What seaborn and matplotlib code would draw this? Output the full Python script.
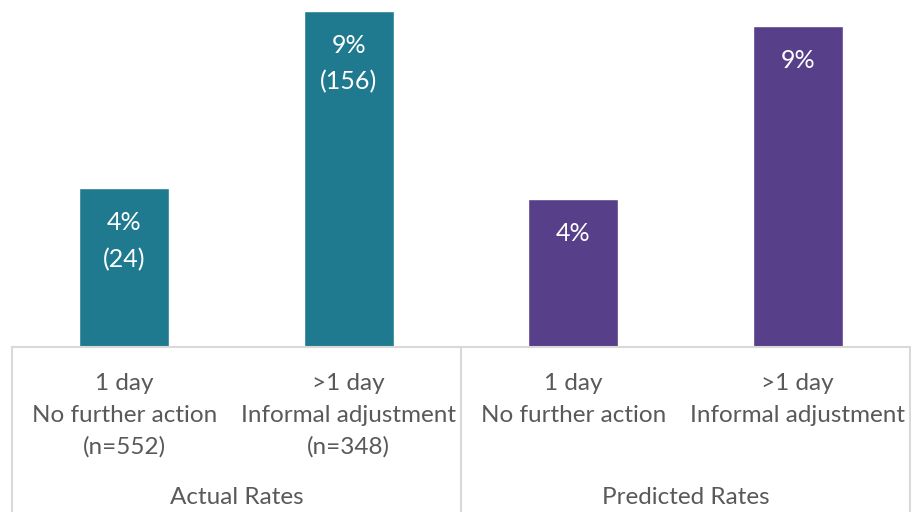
import matplotlib
matplotlib.use("Agg")
import matplotlib.pyplot as plt
import matplotlib.transforms as mtransforms
import seaborn as sns
import pandas as pd

categories = ["1 day\nNo further action\n(n=552)",
              ">1 day\nInformal adjustment\n(n=348)",
              "1 day\nNo further action",
              ">1 day\nInformal adjustment"]
groups = ["Actual Rates", "Actual Rates", "Predicted Rates", "Predicted Rates"]
values = [4.35, 9.2, 4.05, 8.8]
bar_labels = ["4%\n(24)", "9%\n(156)", "4%", "9%"]
group_names = ["Actual Rates", "Predicted Rates"]
colors = {"Actual Rates": "#1F7A8F", "Predicted Rates": "#583F8A"}

df = pd.DataFrame({"cat": categories, "group": groups, "value": values})

sns.set_style("white")
plt.rcParams["font.family"] = ["Lato", "DejaVu Sans"]

W, H = 912, 512
fig = plt.figure(figsize=(W / 100, H / 100), dpi=100)
left, right, base = 12, 910, 347
ax = fig.add_axes([left / W, (H - base) / H, (right - left) / W, base / H])

sns.barplot(data=df, x="cat", y="value", hue="group", palette=colors,
            dodge=False, width=0.4, ax=ax, legend=False, saturation=1)

ax.set_ylim(0, 9.5)
ax.set_xlim(-0.5, 3.5)
ax.set_xlabel("")
ax.set_ylabel("")
ax.set_yticks([])
for s in ax.spines.values():
    s.set_visible(False)

ax.axhline(0, color="#D9D9D9", lw=1.5, clip_on=False)

ax.tick_params(axis="x", length=0, pad=19, labelsize=17.5, labelcolor="#595959")
for t in ax.get_xticklabels():
    t.set_linespacing(1.6)

for i, (v, lab) in enumerate(zip(values, bar_labels)):
    ax.annotate(lab, (i, v), xytext=(0, -23), textcoords="offset pixels",
                ha="center", va="top", color="white", fontsize=18,
                linespacing=1.7)

trans = mtransforms.blended_transform_factory(ax.transData, ax.transAxes)
for xs in [-0.5, 1.5, 3.5]:
    ax.plot([xs, xs], [0, -(H - base) / base], color="#D9D9D9",
            lw=1.5, transform=trans, clip_on=False)

for gi, g in enumerate(group_names):
    ax.text(gi * 2 + 0.5, -(497 - base) / base, g, transform=trans,
            ha="center", va="center", fontsize=17.5, color="#595959")

fig.savefig("out.png", dpi=100)
